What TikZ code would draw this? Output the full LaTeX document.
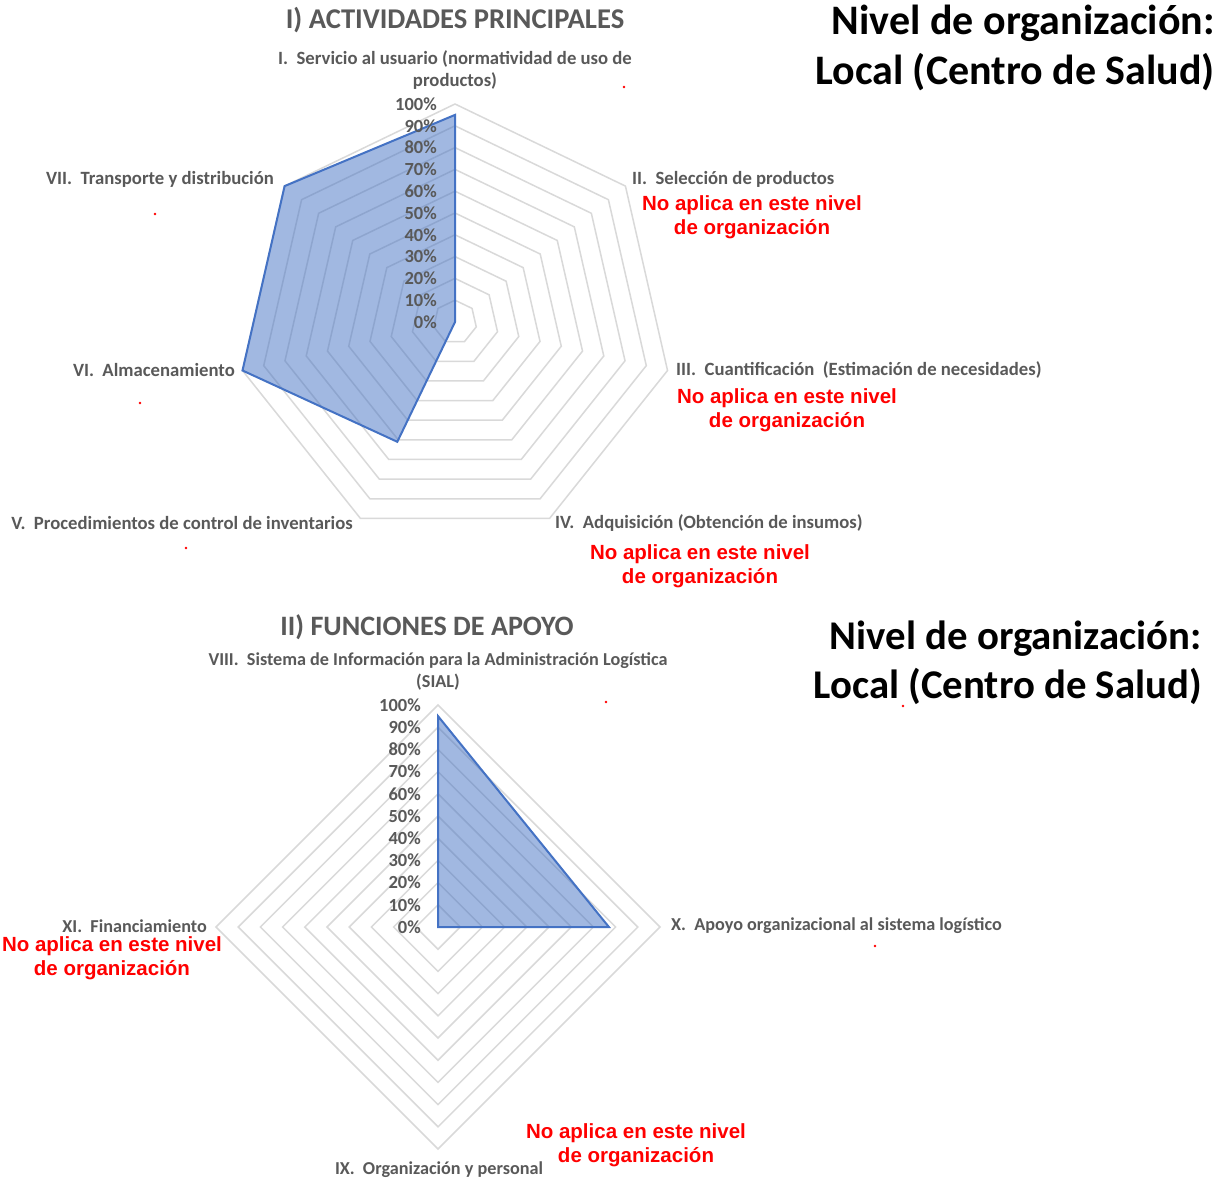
\documentclass[tikz,border=0pt]{standalone}
\usepackage{fontspec}
\setmainfont{Carlito}
\newfontfamily\arialfont{Liberation Sans}
\definecolor{txtgray}{HTML}{595959}
\definecolor{gridgray}{HTML}{D9D9D9}
\definecolor{dblue}{HTML}{4472C4}
\tikzset{
  gridline/.style={draw=gridgray, line width=1.5pt, line join=miter},
  datafill/.style={fill=dblue, fill opacity=0.5},
  dataline/.style={draw=dblue, line width=2pt, line join=miter},
  cat/.style={text=txtgray, font=\bfseries\fontsize{18.7}{22}\selectfont, inner sep=0pt},
  catb/.style={text=txtgray, font=\bfseries\fontsize{18.2}{22}\selectfont, inner sep=0pt},
  pct/.style={text=txtgray, font=\bfseries\fontsize{18.5}{22}\selectfont, anchor=east, inner sep=0pt},
  ctitle/.style={text=txtgray, font=\bfseries\fontsize{28.6}{32}\selectfont, inner sep=0pt},
  ctitleb/.style={text=txtgray, font=\bfseries\fontsize{28.1}{32}\selectfont, inner sep=0pt},
  nivel/.style={text=black, font=\bfseries\fontsize{42}{50}\selectfont, inner sep=0pt, align=right, anchor=north east},
  nivelb/.style={text=black, font=\bfseries\fontsize{40.8}{49}\selectfont, inner sep=0pt, align=right, anchor=north east},
  noap/.style={text=red, font=\arialfont\bfseries\fontsize{20.5}{24}\selectfont, inner sep=0pt, align=center},
  rdot/.style={fill=red}
}
\begin{document}
\begin{tikzpicture}[x=1pt,y=-1pt]
\useasboundingbox (0,0) rectangle (1220,1183);
\fill[white] (0,0) rectangle (1220,1183);

% ===================== TOP CHART =====================
\foreach \k in {1,...,10}{
  \pgfmathsetmacro\r{21.8*\k}
  \draw[gridline] (455,{322-\r})
    \foreach \i in {1,...,6}{ -- ({455+\r*sin(\i*360/7)},{322-\r*cos(\i*360/7)}) } -- cycle;
}
\coordinate (tI) at (455,114.9);
\coordinate (tC) at (455,322);
\coordinate (tV) at (397.3,441.8);
\coordinate (tVI) at (242.5,370.5);
\coordinate (tVII) at (284.6,186.1);
\fill[datafill] (tI) -- (tC) -- (tV) -- (tVI) -- (tVII) -- cycle;
\draw[dataline] (tI) -- (tC) -- (tV) -- (tVI) -- (tVII) -- cycle;

\foreach \k in {0,...,10}{
  \node[pct] (tp\k) at (437,{322-21.8*\k}) {\pgfmathparse{int(10*\k)}\pgfmathresult\%};
}

\node[ctitle] (ttitle) at (455,20) {I) ACTIVIDADES PRINCIPALES};
\node[cat, align=center] (tlI) at (455,70) {I.\ \ Servicio al usuario (normatividad de uso de\\productos)};
\node[cat, anchor=west] (tlII) at (632,179) {II.\ \ Selección de productos};
\node[noap] (tnII) at (752,217) {No aplica en este nivel\\de organización};
\node[cat, anchor=west] (tlIII) at (676,370) {III.\ \ Cuantificación\ \ (Estimación de necesidades)};
\node[noap] (tnIII) at (787,410) {No aplica en este nivel\\de organización};
\node[cat, anchor=west] (tlIV) at (555,523) {IV.\ \ Adquisición (Obtención de insumos)};
\node[noap] (tnIV) at (700,566) {No aplica en este nivel\\de organización};
\node[cat, anchor=east] (tlV) at (353,523) {V.\ \ Procedimientos de control de inventarios};
\node[cat, anchor=east] (tlVI) at (235,370) {VI.\ \ Almacenamiento};
\node[cat, anchor=east] (tlVII) at (274,179) {VII.\ \ Transporte y distribución};
\node[nivel] (tnivel) at (1215,5) {Nivel de organización:\\Local (Centro de Salud)};

\fill[rdot] (624,87) circle (1.3);
\fill[rdot] (155,214) circle (1.3);
\fill[rdot] (140,403) circle (1.3);
\fill[rdot] (186,548) circle (1.3);

% ===================== BOTTOM CHART =====================
\foreach \k in {1,...,10}{
  \pgfmathsetmacro\r{22.2*\k}
  \draw[gridline] (438,{927-\r}) -- ({438+\r},927) -- (438,{927+\r}) -- ({438-\r},927) -- cycle;
}
\coordinate (bVIII) at (438,716.1);
\coordinate (bX) at (608.9,927);
\coordinate (bC) at (438,927);
\fill[datafill] (bVIII) -- (bX) -- (bC) -- cycle;
\draw[dataline] (bVIII) -- (bX) -- (bC) -- cycle;

\foreach \k in {0,...,10}{
  \node[pct] (bp\k) at (421,{927-22.2*\k}) {\pgfmathparse{int(10*\k)}\pgfmathresult\%};
}

\node[ctitleb] (btitle) at (427,627) {II) FUNCIONES DE APOYO};
\node[catb, align=center] (blVIII) at (438,671) {VIII.\ \ Sistema de Información para la Administración Logística\\(SIAL)};
\node[catb, anchor=west] (blX) at (671,926) {X.\ \ Apoyo organizacional al sistema logístico};
\node[catb] (blIX) at (439,1170) {IX.\ \ Organización y personal};
\node[catb, anchor=east] (blXI) at (207,926) {XI.\ \ Financiamiento};
\node[noap] (bnXI) at (112,958) {No aplica en este nivel\\de organización};
\node[noap] (bnIX) at (636,1145) {No aplica en este nivel\\de organización};
\node[nivelb] (bnivel) at (1202,621) {Nivel de organización:\\Local (Centro de Salud)};

\fill[rdot] (606,702) circle (1.3);
\fill[rdot] (875,946) circle (1.3);
\fill[rdot] (903,706) circle (1.3);
\end{tikzpicture}
\end{document}
